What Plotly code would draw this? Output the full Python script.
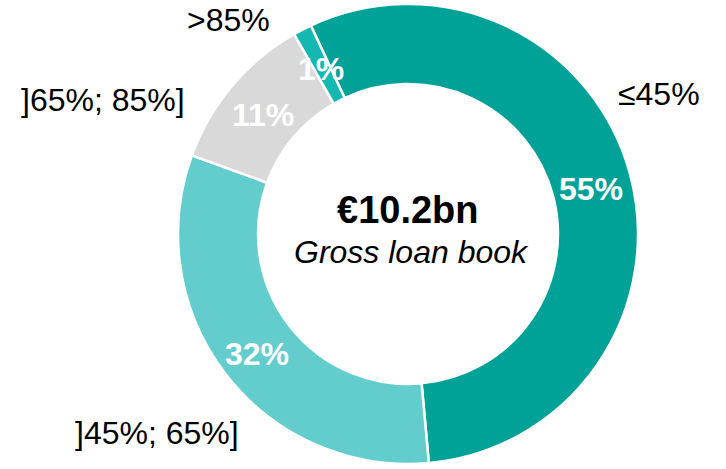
import math
import plotly.graph_objects as go

categories = ["≤45%", "]45%; 65%]", "]65%; 85%]", ">85%"]
values = [55.5, 32.0, 11.2, 1.3]
pct_labels = ["55%", "32%", "11%", "1%"]
colors = ["#00A197", "#63CDCE", "#D9D9D9", "#14B8B0"]
center_value = "€10.2bn"
center_caption = "Gross loan book"

W, H = 726, 469
cx, cy, R = 408, 234, 230
hole = 0.652
rotation = -25
FONT = "Liberation Sans, Arial"

fig = go.Figure(go.Pie(
    labels=categories, values=values, sort=False, direction="clockwise",
    rotation=rotation, hole=hole, textinfo="none", hoverinfo="label+percent",
    marker=dict(colors=colors, line=dict(color="white", width=2.5)),
    domain=dict(x=[(cx - R) / W, (cx + R) / W], y=[(H - cy - R) / H, (H - cy + R) / H]),
    showlegend=False,
))

anns = []
total = sum(values)
cum = 0.0
rmid = R * (1 + hole) / 2
for v, t in zip(values, pct_labels):
    mid = rotation + (cum + v / 2) / total * 360
    cum += v
    a = math.radians(mid)
    x = cx + rmid * math.sin(a)
    y = cy - rmid * math.cos(a)
    anns.append(dict(x=x / W, y=1 - y / H, xref="paper", yref="paper", text="<b>" + t + "</b>",
                     showarrow=False, yshift=-4,
                     font=dict(family=FONT, size=32, color="white"),
                     xanchor="center", yanchor="middle"))

label_pos = [(659, 94), (157, 433), (103, 100), (228, 20)]
for (lx, ly), c in zip(label_pos, categories):
    anns.append(dict(x=lx / W, y=1 - ly / H, xref="paper", yref="paper", text=c, showarrow=False,
                     font=dict(family=FONT, size=32, color="black"),
                     xanchor="center", yanchor="middle"))

anns.append(dict(x=408 / W, y=1 - 210 / H, xref="paper", yref="paper", text="<b>" + center_value + "</b>",
                 showarrow=False, font=dict(family=FONT, size=38, color="black"),
                 xanchor="center", yanchor="middle"))
anns.append(dict(x=411 / W, y=1 - 252 / H, xref="paper", yref="paper", text="<i>" + center_caption + "</i>",
                 showarrow=False, font=dict(family=FONT, size=32, color="black"),
                 xanchor="center", yanchor="middle"))

fig.update_layout(width=W, height=H, margin=dict(l=0, r=0, t=0, b=0),
                  paper_bgcolor="white", plot_bgcolor="white", annotations=anns)
fig.write_html("out.html", config={"displayModeBar": False},
               post_script="document.body.style.margin='0';document.body.style.overflow='hidden';")
